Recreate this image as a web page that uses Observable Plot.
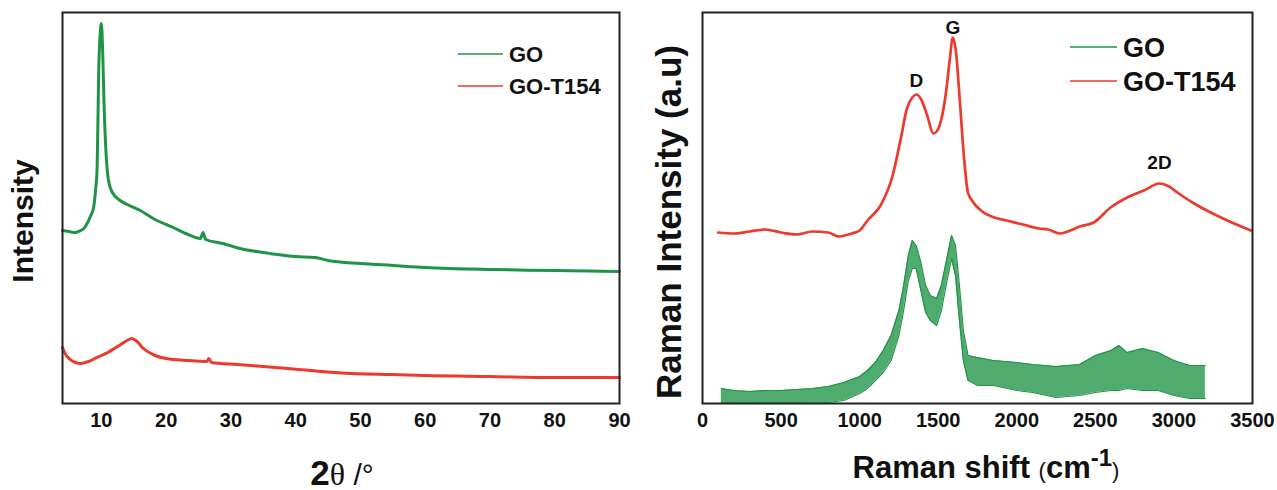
<!DOCTYPE html>
<html>
<head>
<meta charset="utf-8">
<script src="https://cdn.jsdelivr.net/npm/d3@7"></script>
<script src="https://cdn.jsdelivr.net/npm/@observablehq/plot@0.6"></script>
<style>
  body { margin: 0; background: #fff; }
  #fig { position: relative; width: 1277px; height: 490px; font-family: "Liberation Sans", Arial, sans-serif; }
  #xrd { position: absolute; left: 0; top: 0; }
  #raman { position: absolute; left: 640px; top: 0; }
</style>
</head>
<body>
<div id="fig"><div id="xrd"></div><div id="raman"></div></div>
<script>
// ---- XRD patterns (2θ in degrees, intensity in a.u.) ----
const xrdThetaGO = [4, 5, 6, 6.8, 7.3, 7.8, 8.3, 8.8, 9.1, 9.35, 9.6, 9.8, 10, 10.2, 10.4, 10.7, 11.1, 11.7, 12.9, 14, 16, 18, 21.1, 23, 25.3, 25.7, 26.1, 28.8, 31.4, 35, 40, 43, 45, 50, 55, 60, 70, 80, 90];
const xrdGO      = [173, 172, 171, 173, 175, 180, 187, 196, 213, 236, 336, 368, 380, 353, 303, 253, 223, 211, 203, 199, 193, 185, 176, 170, 165, 171, 164, 160, 155, 151, 147, 146, 143, 140, 138, 136, 134, 133, 132];

const xrdThetaT154 = [4, 4.5, 5, 6, 6.8, 8, 9, 10, 11, 12, 13, 14, 14.7, 15.5, 16.5, 18.3, 20, 23.4, 26.3, 26.6, 27, 31, 35, 38.8, 44, 48.7, 55, 60, 70, 80, 90];
const xrdT154      = [56, 49, 45, 41, 40, 42, 45, 48, 51, 55, 59, 63, 65, 62, 55, 48, 45, 43, 42, 45, 41, 39, 37, 35, 32, 30, 29, 28, 27, 26, 26];

const xrdTicks = [10, 20, 30, 40, 50, 60, 70, 80, 90];

// ---- Raman spectra (shift in cm^-1, intensity in a.u.) ----
const ramanShiftT154 = [100, 200, 300, 400, 500, 600, 700, 800, 870, 950, 1000, 1055, 1133, 1210, 1262, 1301, 1335, 1361, 1392, 1430, 1469, 1490, 1521, 1547, 1573, 1593, 1612, 1637, 1663, 1689, 1715, 1780, 1857, 1935, 2038, 2142, 2200, 2278, 2340, 2400, 2490, 2597, 2703, 2809, 2908, 2969, 3022, 3128, 3234, 3340, 3490];
const ramanT154      = [171, 170, 172, 174, 171, 169, 172, 171, 167, 170, 173, 184, 198, 228, 265, 295, 306, 309, 304, 288, 270, 272, 285, 308, 343, 366, 353, 304, 248, 211, 203, 192, 186, 183, 179, 175, 174, 170, 173, 177, 181, 196, 206, 213, 220, 217, 211, 200, 191, 183, 173];

// GO spectrum is very noisy: upper and lower edge of the noise band
const ramanShiftGO = [120, 200, 300, 400, 500, 600, 700, 800, 900, 1000, 1050, 1100, 1150, 1200, 1250, 1280, 1310, 1335, 1360, 1390, 1420, 1450, 1490, 1520, 1550, 1585, 1610, 1635, 1660, 1690, 1750, 1850, 2000, 2100, 2250, 2400, 2500, 2600, 2650, 2700, 2800, 2900, 3000, 3100, 3200];
const ramanGOHigh  = [15, 13, 12, 13, 13, 14, 15, 17, 21, 27, 33, 41, 53, 68, 93, 118, 148, 163, 158, 141, 118, 108, 105, 118, 141, 168, 158, 118, 73, 48, 46, 43, 41, 39, 37, 39, 48, 53, 58, 51, 55, 51, 43, 38, 38];
const ramanGOLow   = [-1, -1, -1, -1, -1, -1, 0, 1, 3, 10, 15, 23, 31, 43, 68, 93, 123, 135, 135, 113, 91, 83, 78, 93, 118, 145, 128, 83, 43, 23, 18, 18, 13, 11, 6, 8, 11, 13, 13, 15, 13, 13, 8, 5, 5];

const ramanTicks = [0, 500, 1000, 1500, 2000, 2500, 3000, 3500];

// band labels sit just above their peak maxima
const peakNames = ["D", "G", "2D"];
const peakShift = [1361, 1593, 2908];
const peakValue = [309, 366, 220];
const peakLift  = [14, 10, 21];

const seriesNames = ["GO", "GO-T154"];
const GREEN = "#1f9446";
const RED = "#ec3a2e";
const FONT = "'Liberation Sans', Arial, sans-serif";

const baseStyle = { fontFamily: FONT, fontSize: "20px", fontWeight: "bold", color: "#111", background: "transparent", overflow: "visible" };

// ---- XRD panel ----
const xrd = Plot.plot({
  width: 640, height: 490,
  marginLeft: 62, marginRight: 21, marginTop: 12, marginBottom: 87,
  style: baseStyle,
  x: { domain: [4, 90], ticks: xrdTicks, tickSize: 0, tickPadding: 9, label: null, tickFormat: d => String(d) },
  y: { domain: [0, 391], axis: null },
  marks: [
    Plot.line(xrdGO, { x: xrdThetaGO, y: xrdGO, stroke: GREEN, strokeWidth: 3, curve: "monotone-x" }),
    Plot.line(xrdT154, { x: xrdThetaT154, y: xrdT154, stroke: RED, strokeWidth: 3, curve: "monotone-x" }),
    Plot.frame({ stroke: "#222", strokeWidth: 2 })
  ]
});
document.getElementById("xrd").appendChild(xrd);

// ---- Raman panel ----
const raman = Plot.plot({
  width: 637, height: 490,
  marginLeft: 62, marginRight: 25, marginTop: 12, marginBottom: 87,
  style: baseStyle,
  x: { domain: [0, 3500], ticks: ramanTicks, tickSize: 0, tickPadding: 9, label: null, tickFormat: d => String(d) },
  y: { domain: [0, 391], axis: null },
  marks: [
    Plot.areaY(ramanGOHigh, { x: ramanShiftGO, y1: ramanGOLow, y2: ramanGOHigh, fill: GREEN, fillOpacity: 0.78, clip: true }),
    Plot.line(ramanGOHigh, { x: ramanShiftGO, y: ramanGOHigh, stroke: GREEN, strokeWidth: 1.2, clip: true }),
    Plot.line(ramanGOLow, { x: ramanShiftGO, y: ramanGOLow, stroke: GREEN, strokeWidth: 1.2, clip: true }),
    Plot.line(ramanT154, { x: ramanShiftT154, y: ramanT154, stroke: RED, strokeWidth: 2.7, curve: "monotone-x" }),
    Plot.text(peakNames, {
      x: peakShift,
      y: peakNames.map((_, i) => peakValue[i] + peakLift[i]),
      text: d => d, fontSize: 19, fontWeight: "bold", fill: "#111"
    }),
    Plot.frame({ stroke: "#222", strokeWidth: 2 })
  ]
});
document.getElementById("raman").appendChild(raman);

// ---- Axis titles and legends ----
function legend(svg, x0, x1, ys, size) {
  const g = d3.select(svg).append("g").attr("text-anchor", "start");
  [GREEN, RED].forEach((c, i) => {
    g.append("line").attr("x1", x0).attr("x2", x1).attr("y1", ys[i]).attr("y2", ys[i])
      .attr("stroke", c).attr("stroke-width", 1.3);
    g.append("text").attr("x", x1 + 6).attr("y", ys[i]).attr("dy", "0.36em")
      .attr("text-anchor", "start")
      .attr("font-size", size).attr("font-weight", "bold").attr("fill", "#111")
      .attr("font-family", FONT).text(seriesNames[i]);
  });
}

// XRD titles
{
  const s = d3.select(xrd);
  s.append("text").attr("transform", "translate(22,221) rotate(-90)")
    .attr("text-anchor", "middle").attr("dy", "0.36em")
    .attr("font-size", 30).attr("font-weight", "bold").attr("fill", "#111").attr("font-family", FONT)
    .text("Intensity");
  const t = s.append("text").attr("x", 342).attr("y", 485).attr("text-anchor", "middle")
    .attr("fill", "#111").attr("font-family", FONT);
  t.append("tspan").attr("font-size", 35).attr("font-weight", "bold").text("2");
  t.append("tspan").attr("font-size", 32).attr("font-weight", "normal").attr("font-family", "'Liberation Serif', 'DejaVu Serif', serif").text("θ");
  t.append("tspan").attr("font-size", 30).attr("font-weight", "normal").text(" /°");
  legend(xrd, 458, 503, [54, 86], 22);
}

// Raman titles
{
  const s = d3.select(raman);
  s.append("text").attr("transform", "translate(28,222) rotate(-90)")
    .attr("text-anchor", "middle").attr("dy", "0.36em")
    .attr("font-size", 35).attr("font-weight", "bold").attr("fill", "#111").attr("font-family", FONT)
    .text("Raman Intensity (a.u)");
  const t = s.append("text").attr("x", 346).attr("y", 478).attr("text-anchor", "middle")
    .attr("fill", "#111").attr("font-family", FONT).attr("font-weight", "bold");
  t.append("tspan").attr("font-size", 31).text("Raman shift ");
  t.append("tspan").attr("font-size", 22).attr("font-weight", "normal").text("(");
  t.append("tspan").attr("font-size", 31).text("cm");
  t.append("tspan").attr("font-size", 24).attr("dy", -12).text("-1");
  t.append("tspan").attr("font-size", 22).attr("font-weight", "normal").attr("dy", 12).text(")");
  legend(raman, 430, 477, [47, 81], 27);
}
</script>
</body>
</html>
